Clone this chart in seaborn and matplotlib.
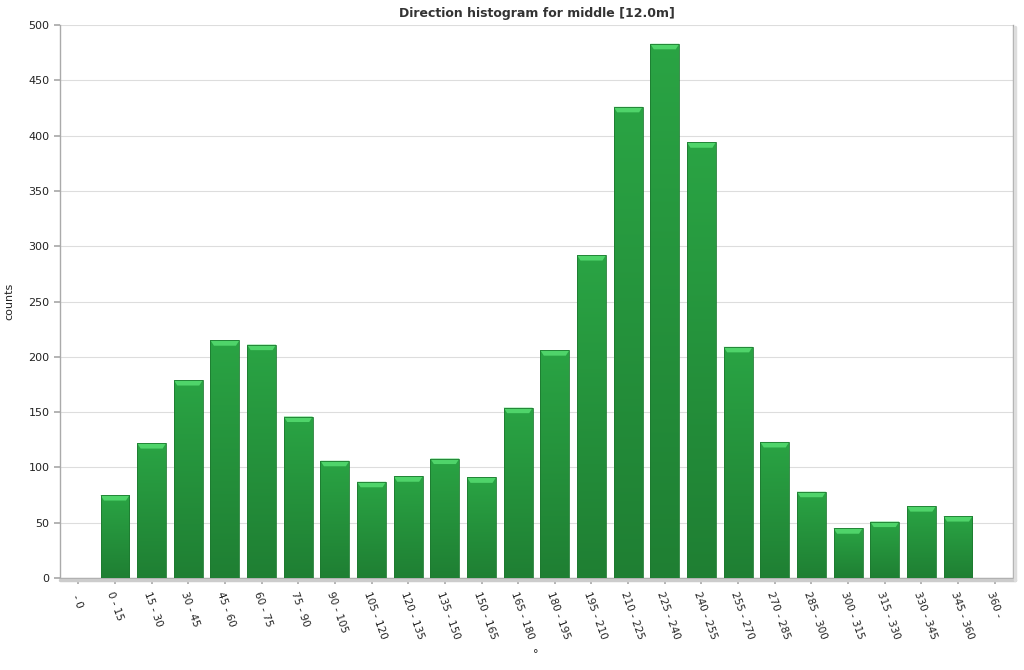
import numpy as np
import pandas as pd
import matplotlib
matplotlib.use("Agg")
import matplotlib.pyplot as plt
import seaborn as sns
from matplotlib.colors import LinearSegmentedColormap

categories = [" - 0", "0 - 15", "15 - 30", "30 - 45", "45 - 60", "60 - 75", "75 - 90",
              "90 - 105", "105 - 120", "120 - 135", "135 - 150", "150 - 165",
              "165 - 180", "180 - 195", "195 - 210", "210 - 225", "225 - 240",
              "240 - 255", "255 - 270", "270 - 285", "285 - 300", "300 - 315",
              "315 - 330", "330 - 345", "345 - 360", "360 - "]
counts = [0, 75, 122, 179, 215, 211, 146, 106, 87, 92, 108, 91, 154, 206, 292,
          426, 483, 394, 209, 123, 78, 45, 51, 65, 56, 0]
yticks = [0, 50, 100, 150, 200, 250, 300, 350, 400, 450, 500]

sns.set_theme(style="white")
plt.rcParams['font.family'] = ['DejaVu Sans']

df = pd.DataFrame({"bin": categories, "counts": counts})

fig = plt.figure(figsize=(10.24, 6.7), dpi=100)
ax = fig.add_axes([60/1024, 92/670, 953/1024, 553/670])

sns.barplot(data=df, x="bin", y="counts", order=categories, color="#28a040",
            width=0.79, saturation=1, ax=ax, edgecolor="none", zorder=3)

# gradient fill and top cap on each bar
grad = np.linspace(0, 1, 256).reshape(-1, 1)
cmap = LinearSegmentedColormap.from_list("g", ["#1f7f33", "#2aa444"])
px_per_unit = 553 / 500
for p in list(ax.patches):
    h = p.get_height()
    if h <= 0:
        continue
    x0 = p.get_x(); w = p.get_width()
    im = ax.imshow(grad, extent=[x0, x0 + w, 0, h], origin="lower", cmap=cmap,
                   aspect="auto", zorder=4)
    im.set_clip_path(p)
    cap_h = 5.5 / px_per_unit
    cap = plt.Polygon([[x0, h], [x0 + w, h], [x0 + w * 0.88, h - cap_h],
                       [x0 + w * 0.12, h - cap_h]], closed=True,
                      facecolor="#4fd46a", edgecolor="none", zorder=5)
    ax.add_patch(cap)
    side = plt.Rectangle((x0, 0), w, h, facecolor="none", edgecolor="#1d7a30",
                         linewidth=0.6, zorder=6)
    ax.add_patch(side)

ax.set_xlim(-0.5, len(categories) - 0.5)
ax.set_ylim(0, 500)
ax.set_yticks(yticks)
ax.yaxis.grid(True, color="#dddddd", linewidth=0.8, zorder=0)
ax.set_axisbelow(True)

for s in ["left", "bottom", "right"]:
    ax.spines[s].set_color("#aaaaaa")
    ax.spines[s].set_linewidth(1.0)
ax.spines["top"].set_visible(False)

ax.tick_params(axis="both", which="both", length=4, color="#aaaaaa",
               labelsize=8, labelcolor="#222222", direction="out")
ax.tick_params(axis="x", pad=5, labelsize=7.5)
ax.tick_params(bottom=True, left=True)
plt.setp(ax.get_xticklabels(), rotation=-70, ha="left", va="top",
         rotation_mode="anchor")

ax.set_xlabel("°", fontsize=8, color="#222222")
ax.xaxis.set_label_coords(0.4995, -0.128)
ax.set_ylabel("counts", fontsize=8, color="#222222", labelpad=10)
ax.set_title("Direction histogram for middle [12.0m]", fontsize=9,
             fontweight="bold", color="#333333", pad=6)

# subtle shadow on right and bottom
fig.add_artist(plt.Line2D([60/1024, 1015/1024], [90/670, 90/670],
                          color="#cccccc", linewidth=2.5, transform=fig.transFigure))
fig.add_artist(plt.Line2D([1015/1024, 1015/1024], [90/670, 643/670],
                          color="#dddddd", linewidth=2.5, transform=fig.transFigure))

fig.savefig("out.png", dpi=100, facecolor="white")
